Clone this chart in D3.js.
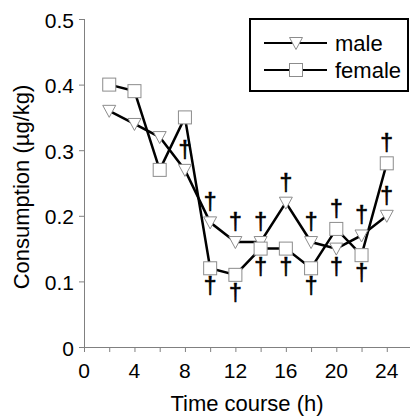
<!DOCTYPE html>
<html>
<head>
<meta charset="utf-8">
<script src="https://cdn.jsdelivr.net/npm/d3@7"></script>
<style>
  body { margin: 0; background: #fff; }
  svg { display: block; font-family: Arial, 'Liberation Sans', sans-serif; }
</style>
</head>
<body>
<svg id="chart" width="410" height="417"></svg>
<script>
// time points (h) and consumption (ug/kg) per sex
const times = [2, 4, 6, 8, 10, 12, 14, 16, 18, 20, 22, 24]
const male = [0.36, 0.34, 0.32, 0.27, 0.19, 0.16, 0.16, 0.22, 0.16, 0.15, 0.17, 0.20]
const female = [0.40, 0.39, 0.27, 0.35, 0.12, 0.11, 0.15, 0.15, 0.12, 0.18, 0.14, 0.28]
const xTicks = [0, 2, 4, 6, 8, 10, 12, 14, 16, 18, 20, 22, 24, 26]
const xLabels = [0, 4, 8, 12, 16, 20, 24]
const yTicks = [0, 0.1, 0.2, 0.3, 0.4, 0.5]
// significance marks: which point they sit on and on which side
const daggers = [
  { t: 8, s: 'male', side: 'above' },
  { t: 10, s: 'male', side: 'above' }, { t: 10, s: 'female', side: 'below' },
  { t: 12, s: 'male', side: 'above' }, { t: 12, s: 'female', side: 'below' },
  { t: 14, s: 'male', side: 'above' }, { t: 14, s: 'female', side: 'below' },
  { t: 16, s: 'male', side: 'above' }, { t: 16, s: 'female', side: 'below' },
  { t: 18, s: 'male', side: 'above' }, { t: 18, s: 'female', side: 'below' },
  { t: 20, s: 'female', side: 'above' }, { t: 20, s: 'male', side: 'below' },
  { t: 22, s: 'male', side: 'above' }, { t: 22, s: 'female', side: 'below' },
  { t: 24, s: 'female', side: 'above' }, { t: 24, s: 'male', side: 'above' }
]

const svg = d3.select('#chart')
const x = d3.scaleLinear().domain([0, 26]).range([84, 412])
const y = d3.scaleLinear().domain([0, 0.5]).range([347, 19])
const axisColor = '#808080'

// x axis
const xAxis = svg.append('g')
  .attr('transform', 'translate(0,' + y(0) + ')')
  .call(d3.axisBottom(x).tickValues(xTicks).tickSize(5).tickFormat(''))
xAxis.selectAll('path, line').attr('stroke', axisColor).attr('stroke-width', 1)
xAxis.select('.domain').attr('d', 'M' + x(0) + ',0.5H410')

// y axis
const yAxis = svg.append('g')
  .attr('transform', 'translate(' + x(0) + ',0)')
  .call(d3.axisLeft(y).tickValues(yTicks).tickSize(5).tickFormat(''))
yAxis.selectAll('path, line').attr('stroke', axisColor).attr('stroke-width', 1)
yAxis.select('.domain').attr('d', 'M0.5,' + y(0.5) + 'V' + y(0))

svg.append('g').selectAll('text')
  .data(xLabels)
  .join('text')
  .attr('x', d => x(d))
  .attr('y', 378)
  .attr('text-anchor', 'middle')
  .attr('font-size', 21)
  .text(d => d)

svg.append('g').selectAll('text')
  .data(yTicks)
  .join('text')
  .attr('x', 74)
  .attr('y', d => y(d) + 8.5)
  .attr('text-anchor', 'end')
  .attr('font-size', 21)
  .text(d => d === 0 ? '0' : d3.format('.1f')(d))

svg.append('text')
  .attr('x', 247)
  .attr('y', 411)
  .attr('text-anchor', 'middle')
  .attr('font-size', 22)
  .text('Time course (h)')

svg.append('text')
  .attr('transform', 'translate(29,' + 187 + ') rotate(-90)')
  .attr('text-anchor', 'middle')
  .attr('font-size', 22)
  .text('Consumption (\u00b5g/kg)')

const series = [
  { name: 'male', values: male, shape: 'tri' },
  { name: 'female', values: female, shape: 'sq' }
]

const line = d3.line().x(d => x(d[0])).y(d => y(d[1]))

function drawMarker (g, shape, cx, cy) {
  if (shape === 'tri') {
    g.append('path')
      .attr('d', 'M' + (cx - 6.5) + ',' + (cy - 5.5) + 'H' + (cx + 6.5) + 'L' + cx + ',' + (cy + 6.5) + 'Z')
      .attr('fill', '#fff').attr('stroke', '#8c8c8c').attr('stroke-width', 1)
  } else {
    g.append('rect')
      .attr('x', cx - 6.5).attr('y', cy - 6.5)
      .attr('width', 13).attr('height', 13)
      .attr('fill', '#fff').attr('stroke', '#8c8c8c').attr('stroke-width', 1)
  }
}

series.forEach(s => {
  svg.append('path')
    .datum(times.map((t, i) => [t, s.values[i]]))
    .attr('fill', 'none')
    .attr('stroke', '#000')
    .attr('stroke-width', 2.5)
    .attr('d', line)
})

series.forEach(s => {
  const g = svg.append('g')
  times.forEach((t, i) => drawMarker(g, s.shape, x(t), y(s.values[i])))
})

svg.append('g').selectAll('text')
  .data(daggers)
  .join('text')
  .attr('x', d => x(d.t))
  .attr('y', d => {
    const v = (d.s === 'male' ? male : female)[times.indexOf(d.t)]
    return y(v) + (d.side === 'above' ? -12 : 26)
  })
  .attr('text-anchor', 'middle')
  .attr('font-size', 23)
  .attr('stroke', '#000')
  .attr('stroke-width', 0.6)
  .text('\u2020')

// legend
const lg = svg.append('g')
lg.append('rect')
  .attr('x', 250).attr('y', 19).attr('width', 158).attr('height', 72)
  .attr('fill', '#fff').attr('stroke', '#000').attr('stroke-width', 2)
series.forEach((s, i) => {
  const ly = 43 + i * 27
  lg.append('line')
    .attr('x1', 264).attr('x2', 327).attr('y1', ly).attr('y2', ly)
    .attr('stroke', '#000').attr('stroke-width', 2)
  drawMarker(lg, s.shape, 296, ly)
  lg.append('text')
    .attr('x', 335).attr('y', ly + 8)
    .attr('font-size', 22)
    .text(s.name)
})
</script>
</body>
</html>
